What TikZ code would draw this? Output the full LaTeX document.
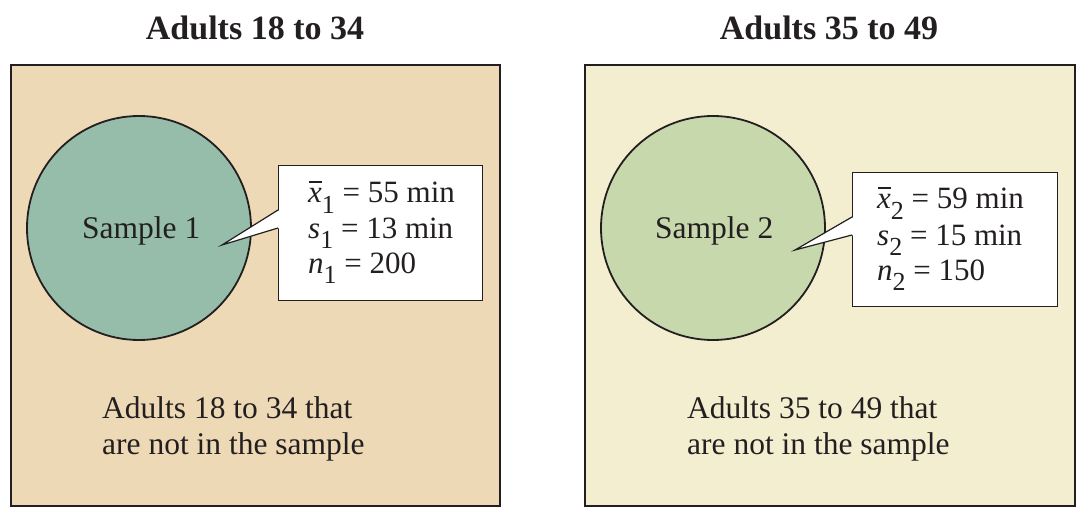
\documentclass[tikz,border=0pt]{standalone}
\usepackage{fontspec}
\setmainfont{Liberation Serif}
\definecolor{panelA}{HTML}{EDD9B5}
\definecolor{panelB}{HTML}{F4EED1}
\definecolor{circA}{HTML}{95BDAA}
\definecolor{circB}{HTML}{C7D8AD}
\definecolor{ink}{HTML}{231F20}
\newcommand\subsc[1]{\raisebox{-0.33em}{\fontsize{26}{26}\selectfont #1}}
\newcommand\xbarit{\makebox[0pt][l]{\hspace{0.04em}\raisebox{0.66em}{\rule{0.4em}{0.045em}}}{\itshape x}}
\begin{document}
\begin{tikzpicture}[x=1pt,y=-1pt,
  panel/.style={draw=ink,line width=2pt,minimum width=#1,minimum height=441pt,inner sep=0pt,anchor=north west},
  circ/.style={circle,draw=ink,line width=1.8pt,minimum size=224pt,inner sep=0pt},
  callbox/.style={draw=ink,fill=white,line width=1.2pt,inner sep=0pt,anchor=north west},
  title/.style={font=\fontsize{34}{34}\selectfont\bfseries,anchor=base,text=ink,inner sep=0pt},
  lbl/.style={font=\fontsize{31.5}{31.5}\selectfont,anchor=base west,text=ink,inner sep=0pt},
  stat/.style={font=\fontsize{31}{31}\selectfont,anchor=base west,text=ink,inner sep=0pt}]
\useasboundingbox (0,0) rectangle (1088,524);
% titles
\node[title] (t1) at (255,40) {Adults 18 to 34};
\node[title] (t2) at (829,40) {Adults 35 to 49};
% panels
\node[panel=489pt,fill=panelA] (p1) at (10,64) {};
\node[panel=490pt,fill=panelB] (p2) at (584,64) {};
% circles
\node[circ,fill=circA] (c1) at (139,228) {};
\node[circ,fill=circB] (c2) at (713,228) {};
\node[lbl] (s1) at (82,239) {Sample 1};
\node[lbl] (s2) at (655,239) {Sample 2};
% callout 1
\node[callbox,minimum width=204pt,minimum height=135pt] (b1) at (278,165) {};
\coordinate (b1a) at (278,210);
\coordinate (b1b) at (278,228);
\coordinate (tip1) at (222,245);
\fill[white] ([xshift=1.5pt]b1a) -- (tip1) -- ([xshift=1.5pt]b1b) -- cycle;
\draw[ink,line width=1.2pt,line join=miter] (b1a) -- (tip1) -- (b1b);
\node[stat] (m1) at (308,203) {\xbarit\subsc{1} = 55 min};
\node[stat] (d1) at (308,238) {{\itshape s}\subsc{1} = 13 min};
\node[stat] (n1) at (308,273) {{\itshape n}\subsc{1} = 200};
% callout 2
\node[callbox,minimum width=205pt,minimum height=134pt] (b2) at (852,172) {};
\coordinate (b2a) at (852,217);
\coordinate (b2b) at (852,235);
\coordinate (tip2) at (795,250);
\fill[white] ([xshift=1.5pt]b2a) -- (tip2) -- ([xshift=1.5pt]b2b) -- cycle;
\draw[ink,line width=1.2pt,line join=miter] (b2a) -- (tip2) -- (b2b);
\node[stat] (m2) at (877,209) {\xbarit\subsc{2} = 59 min};
\node[stat] (d2) at (877,245) {{\itshape s}\subsc{2} = 15 min};
\node[stat] (n2) at (877,280) {{\itshape n}\subsc{2} = 150};
% bottom texts
\node[lbl] (r1a) at (102,418) {Adults 18 to 34 that};
\node[lbl] (r1b) at (102,454) {are not in the sample};
\node[lbl] (r2a) at (687,418) {Adults 35 to 49 that};
\node[lbl] (r2b) at (687,454) {are not in the sample};
\end{tikzpicture}
\end{document}
